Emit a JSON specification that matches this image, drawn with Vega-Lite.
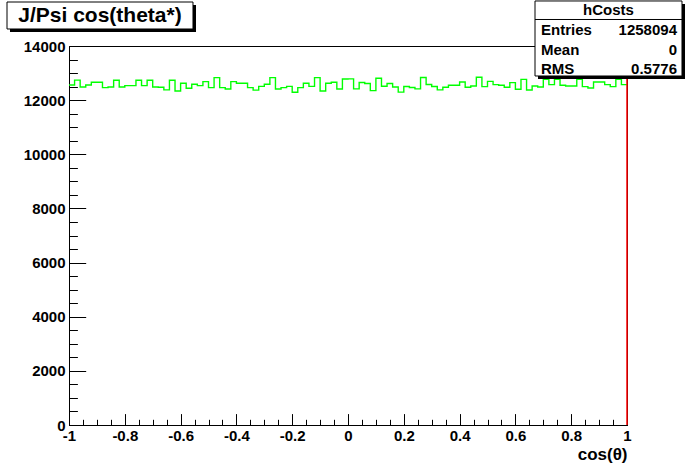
{
  "$schema": "https://vega.github.io/schema/vega-lite/v6.json",
  "width": 558,
  "height": 379,
  "autosize": {"type": "none"},
  "padding": {"left": 69, "top": 46, "right": 69, "bottom": 47},
  "background": "white",
  "view": {"stroke": "black", "strokeWidth": 1},
  "config": {
    "font": "Liberation Sans",
    "axis": {
      "labelFont": "Liberation Sans",
      "labelFontWeight": "bold",
      "labelFontSize": 15,
      "labelColor": "black",
      "tickColor": "black",
      "domainColor": "black",
      "titleColor": "black",
      "titleFont": "Liberation Sans",
      "titleFontWeight": "bold",
      "titleFontSize": 17,
      "grid": false,
      "tickWidth": 1,
      "domainWidth": 1
    }
  },
  "resolve": {"axis": {"x": "independent", "y": "independent"}},
  "layer": [
    {
      "data": {"values": [
        {"x": -1.00, "y": 12560}, {"x": -0.98, "y": 12740}, {"x": -0.96, "y": 12486}, {"x": -0.94, "y": 12560}, {"x": -0.92, "y": 12659},
        {"x": -0.90, "y": 12659}, {"x": -0.88, "y": 12462}, {"x": -0.86, "y": 12486}, {"x": -0.84, "y": 12733}, {"x": -0.82, "y": 12486},
        {"x": -0.80, "y": 12535}, {"x": -0.78, "y": 12535}, {"x": -0.76, "y": 12733}, {"x": -0.74, "y": 12535}, {"x": -0.72, "y": 12733},
        {"x": -0.70, "y": 12486}, {"x": -0.68, "y": 12475}, {"x": -0.66, "y": 12380}, {"x": -0.64, "y": 12733}, {"x": -0.62, "y": 12339},
        {"x": -0.60, "y": 12622}, {"x": -0.58, "y": 12437}, {"x": -0.56, "y": 12585}, {"x": -0.54, "y": 12535}, {"x": -0.52, "y": 12683},
        {"x": -0.50, "y": 12462}, {"x": -0.48, "y": 12830}, {"x": -0.46, "y": 12462}, {"x": -0.44, "y": 12412}, {"x": -0.42, "y": 12683},
        {"x": -0.40, "y": 12622}, {"x": -0.38, "y": 12622}, {"x": -0.36, "y": 12462}, {"x": -0.34, "y": 12370}, {"x": -0.32, "y": 12510},
        {"x": -0.30, "y": 12585}, {"x": -0.28, "y": 12830}, {"x": -0.26, "y": 12412}, {"x": -0.24, "y": 12462}, {"x": -0.22, "y": 12510},
        {"x": -0.20, "y": 12290}, {"x": -0.18, "y": 12462}, {"x": -0.16, "y": 12622}, {"x": -0.14, "y": 12510}, {"x": -0.12, "y": 12830},
        {"x": -0.10, "y": 12339}, {"x": -0.08, "y": 12622}, {"x": -0.06, "y": 12659}, {"x": -0.04, "y": 12412}, {"x": -0.02, "y": 12780},
        {"x": 0.00, "y": 12785}, {"x": 0.02, "y": 12418}, {"x": 0.04, "y": 12650}, {"x": 0.06, "y": 12615}, {"x": 0.08, "y": 12350},
        {"x": 0.10, "y": 12810}, {"x": 0.12, "y": 12515}, {"x": 0.14, "y": 12615}, {"x": 0.16, "y": 12486}, {"x": 0.18, "y": 12295},
        {"x": 0.20, "y": 12505}, {"x": 0.22, "y": 12468}, {"x": 0.24, "y": 12418}, {"x": 0.26, "y": 12835}, {"x": 0.28, "y": 12578},
        {"x": 0.30, "y": 12505}, {"x": 0.32, "y": 12380}, {"x": 0.34, "y": 12474}, {"x": 0.36, "y": 12548}, {"x": 0.38, "y": 12548},
        {"x": 0.40, "y": 12671}, {"x": 0.42, "y": 12474}, {"x": 0.44, "y": 12523}, {"x": 0.46, "y": 12843}, {"x": 0.48, "y": 12498},
        {"x": 0.50, "y": 12695}, {"x": 0.52, "y": 12572}, {"x": 0.54, "y": 12548}, {"x": 0.56, "y": 12474}, {"x": 0.58, "y": 12646},
        {"x": 0.60, "y": 12400}, {"x": 0.62, "y": 12769}, {"x": 0.64, "y": 12375}, {"x": 0.66, "y": 12523}, {"x": 0.68, "y": 12485},
        {"x": 0.70, "y": 12769}, {"x": 0.72, "y": 12572}, {"x": 0.74, "y": 12769}, {"x": 0.76, "y": 12548}, {"x": 0.78, "y": 12523},
        {"x": 0.80, "y": 12523}, {"x": 0.82, "y": 12769}, {"x": 0.84, "y": 12498}, {"x": 0.86, "y": 12449}, {"x": 0.88, "y": 12671},
        {"x": 0.90, "y": 12671}, {"x": 0.92, "y": 12572}, {"x": 0.94, "y": 12498}, {"x": 0.96, "y": 12769}, {"x": 0.98, "y": 12572},
        {"x": 1.00, "y": 12572}
      ]},
      "mark": {"type": "line", "interpolate": "step-after", "color": "#00ff00", "strokeWidth": 1.4},
      "encoding": {
        "x": {"field": "x", "type": "quantitative",
          "scale": {"domain": [-1, 1], "nice": false, "zero": false},
          "axis": {"orient": "bottom", "values": [-1, -0.8, -0.6, -0.4, -0.2, 0, 0.2, 0.4, 0.6, 0.8, 1],
            "labelExpr": "'' + datum.value", "labelFlush": false, "labelOverlap": false,
            "tickSize": -11.4, "labelPadding": 14.5,
            "title": "cos(θ)", "titleAnchor": "end", "titlePadding": 3}},
        "y": {"field": "y", "type": "quantitative",
          "scale": {"domain": [0, 14000], "nice": false, "zero": true},
          "axis": {"orient": "left", "values": [0, 2000, 4000, 6000, 8000, 10000, 12000, 14000],
            "format": "d", "tickSize": -16.7, "labelPadding": 20.7, "labelFlush": false, "labelOverlap": false, "title": null}}
      }
    },
    {
      "data": {"values": [{}]},
      "mark": {"type": "rule", "color": "#ff0000", "strokeWidth": 1.5},
      "encoding": {
        "x": {"datum": 1, "type": "quantitative",
          "axis": {"orient": "bottom", "values": [-1, -0.95, -0.9, -0.85, -0.8, -0.75, -0.7, -0.65, -0.6, -0.55, -0.5, -0.45, -0.4, -0.35, -0.3, -0.25, -0.2, -0.15, -0.1, -0.05, 0, 0.05, 0.1, 0.15, 0.2, 0.25, 0.3, 0.35, 0.4, 0.45, 0.5, 0.55, 0.6, 0.65, 0.7, 0.75, 0.8, 0.85, 0.9, 0.95, 1],
            "tickSize": -5.7, "labels": false, "domain": false, "title": null}},
        "y": {"datum": 0, "type": "quantitative",
          "axis": {"orient": "left", "values": [0, 500, 1000, 1500, 2000, 2500, 3000, 3500, 4000, 4500, 5000, 5500, 6000, 6500, 7000, 7500, 8000, 8500, 9000, 9500, 10000, 10500, 11000, 11500, 12000, 12500, 13000, 13500, 14000],
            "tickSize": -8.4, "labels": false, "domain": false, "title": null}},
        "y2": {"datum": 12950}
      }
    },
    {
      "data": {"values": [{}]},
      "mark": {"type": "rect", "fill": "black"},
      "encoding": {
        "x": {"datum": -1.2115, "type": "quantitative", "axis": null},
        "x2": {"datum": -0.5448},
        "y": {"datum": 15515, "type": "quantitative", "axis": null},
        "y2": {"datum": 14517}
      }
    },
    {
      "data": {"values": [{}]},
      "mark": {"type": "rect", "fill": "white", "stroke": "black", "strokeWidth": 1},
      "encoding": {
        "x": {"datum": -1.2222, "type": "quantitative", "axis": null},
        "x2": {"datum": -0.5556},
        "y": {"datum": 15625, "type": "quantitative", "axis": null},
        "y2": {"datum": 14628}
      }
    },
    {
      "data": {"values": [{}]},
      "mark": {"type": "text", "text": "J/Psi cos(theta*)", "font": "Liberation Sans", "fontWeight": "bold", "fontSize": 21, "align": "center", "baseline": "middle", "color": "black"},
      "encoding": {
        "x": {"datum": -0.8889, "type": "quantitative", "axis": null},
        "y": {"datum": 15108, "type": "quantitative", "axis": null}
      }
    },
    {
      "data": {"values": [{}]},
      "mark": {"type": "rect", "fill": "black"},
      "encoding": {
        "x": {"datum": 0.6810, "type": "quantitative", "axis": null},
        "x2": {"datum": 1.2079},
        "y": {"datum": 15552, "type": "quantitative", "axis": null},
        "y2": {"datum": 12781}
      }
    },
    {
      "data": {"values": [{}]},
      "mark": {"type": "rect", "fill": "white", "stroke": "black", "strokeWidth": 1},
      "encoding": {
        "x": {"datum": 0.6703, "type": "quantitative", "axis": null},
        "x2": {"datum": 1.1971},
        "y": {"datum": 15663, "type": "quantitative", "axis": null},
        "y2": {"datum": 12892}
      }
    },
    {
      "data": {"values": [{}]},
      "mark": {"type": "rule", "color": "black", "strokeWidth": 1},
      "encoding": {
        "x": {"datum": 0.6703, "type": "quantitative", "axis": null},
        "x2": {"datum": 1.1971},
        "y": {"datum": 14979, "type": "quantitative", "axis": null}
      }
    },
    {
      "data": {"values": [{}]},
      "mark": {"type": "text", "text": "hCosts", "font": "Liberation Sans", "fontWeight": "bold", "fontSize": 15, "align": "center", "baseline": "middle", "color": "black"},
      "encoding": {
        "x": {"datum": 0.9337, "type": "quantitative", "axis": null},
        "y": {"datum": 15330, "type": "quantitative", "axis": null}
      }
    },
    {
      "data": {"values": [{}]},
      "mark": {"type": "text", "text": "Entries", "font": "Liberation Sans", "fontWeight": "bold", "fontSize": 15, "align": "left", "baseline": "middle", "color": "black"},
      "encoding": {
        "x": {"datum": 0.6918, "type": "quantitative", "axis": null},
        "y": {"datum": 14591, "type": "quantitative", "axis": null}
      }
    },
    {
      "data": {"values": [{}]},
      "mark": {"type": "text", "text": "1258094", "font": "Liberation Sans", "fontWeight": "bold", "fontSize": 15, "align": "right", "baseline": "middle", "color": "black"},
      "encoding": {
        "x": {"datum": 1.1792, "type": "quantitative", "axis": null},
        "y": {"datum": 14591, "type": "quantitative", "axis": null}
      }
    },
    {
      "data": {"values": [{}]},
      "mark": {"type": "text", "text": "Mean", "font": "Liberation Sans", "fontWeight": "bold", "fontSize": 15, "align": "left", "baseline": "middle", "color": "black"},
      "encoding": {
        "x": {"datum": 0.6918, "type": "quantitative", "axis": null},
        "y": {"datum": 13840, "type": "quantitative", "axis": null}
      }
    },
    {
      "data": {"values": [{}]},
      "mark": {"type": "text", "text": "0", "font": "Liberation Sans", "fontWeight": "bold", "fontSize": 15, "align": "right", "baseline": "middle", "color": "black"},
      "encoding": {
        "x": {"datum": 1.1792, "type": "quantitative", "axis": null},
        "y": {"datum": 13840, "type": "quantitative", "axis": null}
      }
    },
    {
      "data": {"values": [{}]},
      "mark": {"type": "text", "text": "RMS", "font": "Liberation Sans", "fontWeight": "bold", "fontSize": 15, "align": "left", "baseline": "middle", "color": "black"},
      "encoding": {
        "x": {"datum": 0.6918, "type": "quantitative", "axis": null},
        "y": {"datum": 13160, "type": "quantitative", "axis": null}
      }
    },
    {
      "data": {"values": [{}]},
      "mark": {"type": "text", "text": "0.5776", "font": "Liberation Sans", "fontWeight": "bold", "fontSize": 15, "align": "right", "baseline": "middle", "color": "black"},
      "encoding": {
        "x": {"datum": 1.1792, "type": "quantitative", "axis": null},
        "y": {"datum": 13160, "type": "quantitative", "axis": null}
      }
    }
  ]
}
